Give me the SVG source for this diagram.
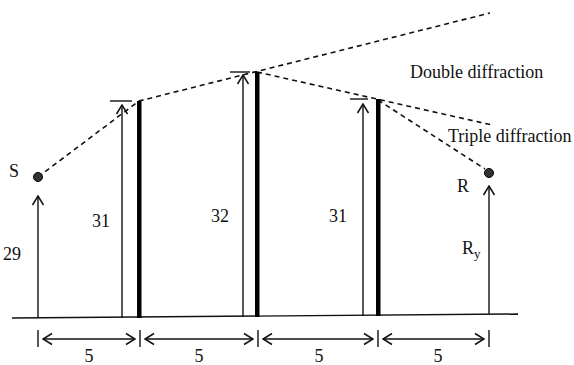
<svg xmlns="http://www.w3.org/2000/svg" width="574" height="365" viewBox="0 0 574 365">
<style>
text{font-family:"Liberation Serif","Times New Roman",serif;fill:#111;}
.lbl{font-size:18px;}
.num{font-size:18px;}
.ln{stroke:#111;stroke-width:1.4;fill:none;}
.dash{stroke:#111;stroke-width:1.6;fill:none;stroke-dasharray:5 4;}
.bar{fill:#000;}
</style>
<defs>
<marker id="ah" markerWidth="12" markerHeight="14" refX="11" refY="7" orient="auto-start-reverse" markerUnits="userSpaceOnUse" viewBox="0 0 12 14">
<path d="M2,1.5 L11,7 L2,12.5" stroke="#111" stroke-width="1.5" fill="none"/>
</marker>
</defs>
<g id="ground">
<line class="ln" x1="12" y1="318" x2="518" y2="314"/>
</g>
<g id="connectors">
<polyline class="dash" points="38,177 139,101 490,13"/>
<line class="dash" x1="257" y1="72" x2="492" y2="125"/>
<line class="dash" x1="378" y1="100" x2="485" y2="169"/>
</g>
<g id="source">
<line class="ln" x1="38" y1="318" x2="38" y2="196" marker-end="url(#ah)"/>
<circle cx="38" cy="177" r="4.5" fill="#333" stroke="#000" stroke-width="1"/>
<text class="lbl" x="9" y="177">S</text>
<text class="num" x="3" y="260">29</text>
</g>
<g id="barrier1">
<line class="ln" x1="122" y1="318" x2="122" y2="105" marker-end="url(#ah)"/>
<line class="ln" x1="110" y1="101" x2="132" y2="101"/>
<rect class="bar" x="137" y="101" width="4.5" height="217"/>
<text class="num" x="92" y="227">31</text>
</g>
<g id="barrier2">
<line class="ln" x1="243" y1="317" x2="243" y2="75" marker-end="url(#ah)"/>
<line class="ln" x1="230" y1="72" x2="250" y2="72"/>
<rect class="bar" x="255" y="72" width="4.5" height="245"/>
<text class="num" x="211" y="222">32</text>
</g>
<g id="barrier3">
<line class="ln" x1="363" y1="316" x2="363" y2="104" marker-end="url(#ah)"/>
<line class="ln" x1="350" y1="99" x2="368" y2="99"/>
<rect class="bar" x="376" y="99" width="4.5" height="217"/>
<text class="num" x="329" y="222">31</text>
</g>
<g id="receiver">
<line class="ln" x1="489" y1="314" x2="489" y2="186" marker-end="url(#ah)"/>
<circle cx="489" cy="173" r="4.5" fill="#333" stroke="#000" stroke-width="1"/>
<text class="lbl" x="457" y="192">R</text>
<text class="lbl" x="462" y="254">R<tspan font-size="13" dy="4">y</tspan></text>
</g>
<g id="labels">
<text class="lbl" x="410" y="78">Double diffraction</text>
<text class="lbl" x="448" y="142">Triple diffraction</text>
</g>
<g id="dimensions">
<line class="ln" x1="38" y1="330" x2="38" y2="347"/>
<line class="ln" x1="140" y1="330" x2="140" y2="347"/>
<line class="ln" x1="258" y1="330" x2="258" y2="347"/>
<line class="ln" x1="378" y1="330" x2="378" y2="347"/>
<line class="ln" x1="489" y1="330" x2="489" y2="347"/>
<line class="ln" x1="43" y1="339" x2="135" y2="339" marker-start="url(#ah)" marker-end="url(#ah)"/>
<line class="ln" x1="145" y1="339" x2="253" y2="339" marker-start="url(#ah)" marker-end="url(#ah)"/>
<line class="ln" x1="263" y1="339" x2="373" y2="339" marker-start="url(#ah)" marker-end="url(#ah)"/>
<line class="ln" x1="383" y1="339" x2="484" y2="339" marker-start="url(#ah)" marker-end="url(#ah)"/>
<text class="num" x="89" y="362" text-anchor="middle">5</text>
<text class="num" x="199" y="362" text-anchor="middle">5</text>
<text class="num" x="319" y="362" text-anchor="middle">5</text>
<text class="num" x="438" y="362" text-anchor="middle">5</text>
</g>
</svg>
